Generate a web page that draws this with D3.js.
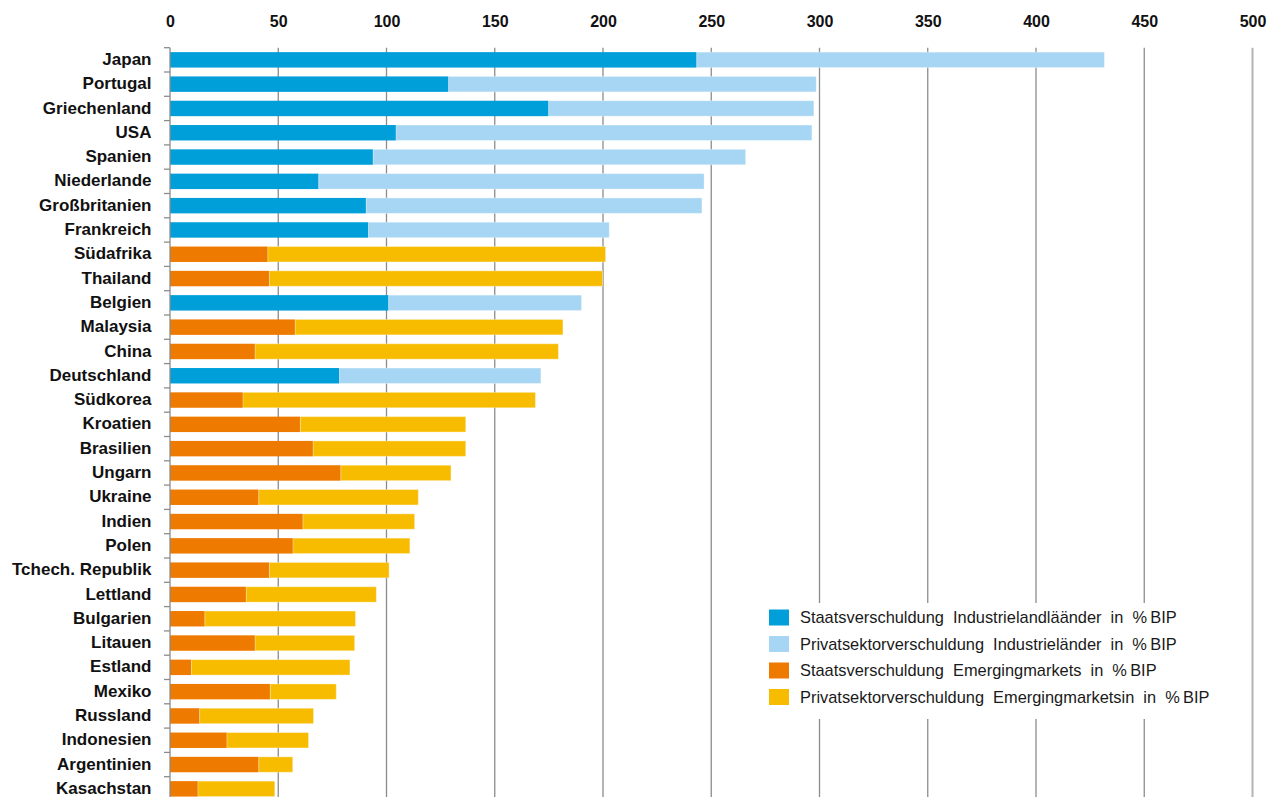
<!DOCTYPE html>
<html><head><meta charset="utf-8">
<script src="https://cdn.jsdelivr.net/npm/d3@7"></script>
<style>
html,body{margin:0;padding:0;background:#fff;overflow:hidden;}
svg{display:block;}
</style></head>
<body>
<script>
const countries = ["Japan","Portugal","Griechenland","USA","Spanien","Niederlande","Großbritanien","Frankreich","Südafrika","Thailand","Belgien","Malaysia","China","Deutschland","Südkorea","Kroatien","Brasilien","Ungarn","Ukraine","Indien","Polen","Tchech. Republik","Lettland","Bulgarien","Litauen","Estland","Mexiko","Russland","Indonesien","Argentinien","Kasachstan"];
const groups = ["ind","ind","ind","ind","ind","ind","ind","ind","em","em","ind","em","em","ind","em","em","em","em","em","em","em","em","em","em","em","em","em","em","em","em","em"];
const stateDebt = [243.3,128.7,174.9,104.4,93.8,68.7,90.6,91.7,45.2,45.9,101.0,57.8,39.3,78.3,33.7,60.2,66.1,78.9,41.0,61.4,56.8,45.9,35.2,16.1,39.3,9.9,46.3,13.7,26.3,41.0,12.9];
const privateDebt = [188.3,169.8,122.5,192.1,172.1,178.0,155.1,111.2,156.0,153.9,89.1,123.7,140.1,93.0,135.1,76.4,70.5,50.9,73.7,51.6,54.0,55.3,60.1,69.6,46.0,73.2,30.5,52.6,37.7,15.7,35.5];
const xTicks = [0,50,100,150,200,250,300,350,400,450,500];
const legendLabels = [
  "Staatsverschuldung Industrielandläänder in %\u2009BIP",
  "Privatsektorverschuldung Industrieländer in %\u2009BIP",
  "Staatsverschuldung Emergingmarkets in %\u2009BIP",
  "Privatsektorverschuldung Emergingmarketsin in %\u2009BIP"
];
const colors = {indState:"#009fda", indPriv:"#a6d6f3", emState:"#ee7a00", emPriv:"#f7bc00"};
const legendColors = [colors.indState, colors.indPriv, colors.emState, colors.emPriv];

(function(){
const W = 1267, H = 797;
const pLeft = 170, pRight = 1252.5, pTop = 47.7, step = 24.3;
const svg = d3.select("body").append("svg").attr("width", W).attr("height", H);

const x = d3.scaleLinear().domain([0,500]).range([pLeft,pRight]);
const y = d3.scaleBand().domain(countries).range([pTop, pTop + step*countries.length])
  .paddingInner(0.365).paddingOuter(0.1825);

// gridlines
svg.append("g").selectAll("line").data(xTicks.filter(d=>d>0)).join("line")
  .attr("x1", d=>x(d)).attr("x2", d=>x(d)).attr("y1", pTop).attr("y2", H)
  .attr("stroke", d=> d===500 ? "#b4b4b4" : "#8c8c8c").attr("stroke-width", d=> d===500?2:1.3);

// top axis labels
const xAxis = d3.axisTop(x).tickValues(xTicks).tickSize(0).tickPadding(0);
const gx = svg.append("g").attr("transform", `translate(0,27)`).call(xAxis);
gx.select(".domain").remove();
gx.selectAll("text").attr("font-family","'Liberation Sans Narrow','Arial Narrow','Liberation Sans',sans-serif")
  .attr("font-weight","bold").attr("font-size","16px").attr("fill","#111");

// bars
const rows = countries.map((c,i)=>({c, g:groups[i], s:stateDebt[i], p:privateDebt[i]}));
const gb = svg.append("g");
gb.selectAll("rect.s").data(rows).join("rect").attr("class","s")
  .attr("x", x(0)).attr("y", d=>y(d.c)).attr("height", y.bandwidth())
  .attr("width", d=>x(d.s)-x(0))
  .attr("fill", d=> d.g==="ind"?colors.indState:colors.emState);
gb.selectAll("rect.p").data(rows).join("rect").attr("class","p")
  .attr("x", d=>x(d.s)).attr("y", d=>y(d.c)).attr("height", y.bandwidth())
  .attr("width", d=>x(d.s+d.p)-x(d.s))
  .attr("fill", d=> d.g==="ind"?colors.indPriv:colors.emPriv)
  .attr("stroke","#fff").attr("stroke-opacity",0.35).attr("stroke-width",1);

// left axis
const gy = svg.append("g");
gy.append("line").attr("x1", pLeft).attr("x2", pLeft).attr("y1", pTop).attr("y2", H).attr("stroke","#8c8c8c").attr("stroke-width",1.3);
gy.selectAll("line.t").data(d3.range(countries.length+1)).join("line").attr("class","t")
  .attr("x1", pLeft-6).attr("x2", pLeft).attr("y1", i=>pTop+i*step).attr("y2", i=>pTop+i*step)
  .attr("stroke","#8c8c8c").attr("stroke-width",1.3);
gy.selectAll("text").data(countries).join("text")
  .attr("x", 151.5).attr("y", d=>y(d)+y.bandwidth()/2).attr("dy","0.3em")
  .attr("text-anchor","end")
  .attr("font-family","'Liberation Sans','Arial',sans-serif").attr("font-weight","bold")
  .attr("font-size","17px").attr("fill","#111").text(d=>d);

// legend
const lg = svg.append("g");
lg.append("rect").attr("x", 755).attr("y", 603).attr("width", 488).attr("height", 116).attr("fill","#fff");
const rowsY = [617.5, 644, 670.5, 697];
legendLabels.forEach((t,i)=>{
  lg.append("rect").attr("x",769).attr("y",rowsY[i]-8).attr("width",20).attr("height",16).attr("fill",legendColors[i]);
  lg.append("text").attr("x",800).attr("y",rowsY[i]).attr("dy","0.36em")
    .attr("font-family","'Liberation Sans','Arial',sans-serif").attr("font-size","16.4px")
    .attr("word-spacing","4.5px").attr("fill","#1a1a1a").text(t);
});
})();
</script>
</body></html>
